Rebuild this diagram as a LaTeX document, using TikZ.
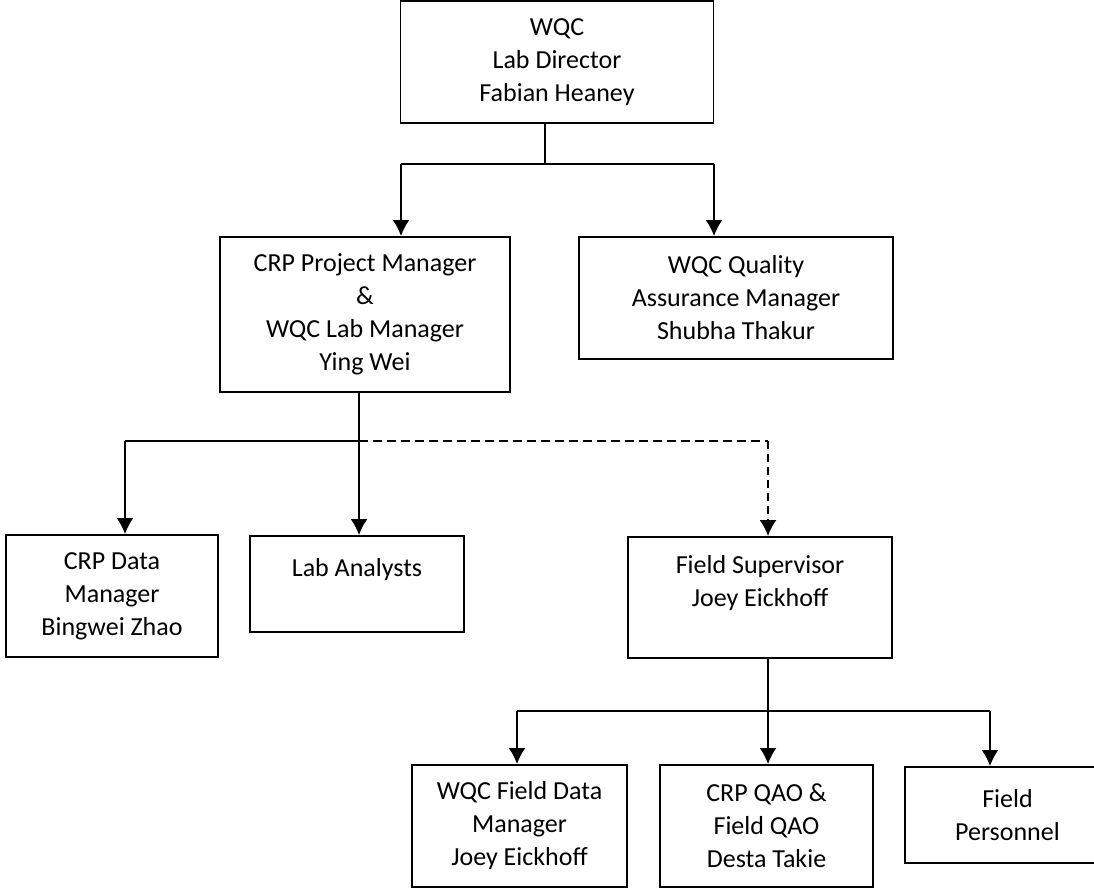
\documentclass[tikz,border=0pt]{standalone}
\usepackage{fontspec}
\setmainfont{Carlito}
\usetikzlibrary{arrows}
\usetikzlibrary{arrows.meta}
\usetikzlibrary{positioning}

\tikzset{
  box/.style={draw,rectangle,inner sep=0pt,align=center,font=\fontsize{26}{33}\selectfont},
  tip/.style={-{Latex[length=16pt,width=17pt]}},
  dashline/.style={dash pattern=on 9pt off 5pt}
}

\begin{document}
\begin{tikzpicture}[x=1pt,y=-1pt,line width=1.9pt]
\useasboundingbox (0,0) rectangle (1094,888);
\fill (557,62) node[box,minimum width=313pt,minimum height=122pt] (D) {WQC\\Lab Director\\Fabian Heaney};
\fill (365,314.5) node[box,minimum width=290pt,minimum height=155pt] (PM) {CRP Project Manager\\\&\\WQC Lab Manager\\Ying Wei};
\fill (736,298) node[box,minimum width=314pt,minimum height=122pt] (QA) {WQC Quality\\Assurance Manager\\Shubha Thakur};
%
\fill (112,596) node[box,minimum width=212pt,minimum height=122pt] (DM) {CRP Data\\Manager\\Bingwei Zhao};
\fill (357,584) node[box,minimum width=214pt,minimum height=96pt] (LA) {Lab Analysts\\~};
\fill (760,597.5) node[box,minimum width=264pt,minimum height=121pt] (FS) {Field Supervisor\\Joey Eickhoff\\~};
%
\fill (519.5,826) node[box,minimum width=215pt,minimum height=122pt] (FD) {WQC Field Data\\Manager\\Joey Eickhoff};
\fill (766.5,826) node[box,minimum width=213pt,minimum height=122pt] (QAO) {CRP QAO \&\\Field QAO\\Desta Takie};
\fill (1007.5,815) node[box,minimum width=205pt,minimum height=96pt] (FP) {Field\\Personnel};
%
\coordinate (J1) at (545,164);
\coordinate (J1L) at (401,164);
\coordinate (J1R) at (714,164);
\coordinate (J2) at (359,441);
\coordinate (J2L) at (125,441);
\coordinate (J2R) at (768,441);
\coordinate (J3) at (768,711);
\coordinate (J3L) at (517,711);
\coordinate (J3R) at (990,711);
%
\draw (D.south -| J1) -- (J1);
\draw (J1L) -- (J1R);
\draw (PM.south -| J2) -- (J2);
\draw (J2L) -- (J2);
\draw[dashline] (J2) -- (J2R);
\draw (FS.south -| J3) -- (J3);
\draw (J3L) -- (J3R);
%
\path (J1L) edge[tip] (J1L |- PM.north);
\path (J1R) edge[tip] (J1R |- QA.north);
\path (J2L) edge[tip] (J2L |- DM.north);
\path (J2) edge[tip] (J2 |- LA.north);
\path (J2R) edge[tip,dash pattern=on 8pt off 5pt] (J2R |- FS.north);
\path (J3L) edge[tip] (J3L |- FD.north);
\path (J3) edge[tip] (J3 |- QAO.north);
\path (J3R) edge[tip] (J3R |- FP.north);
\end{tikzpicture}
\end{document}
